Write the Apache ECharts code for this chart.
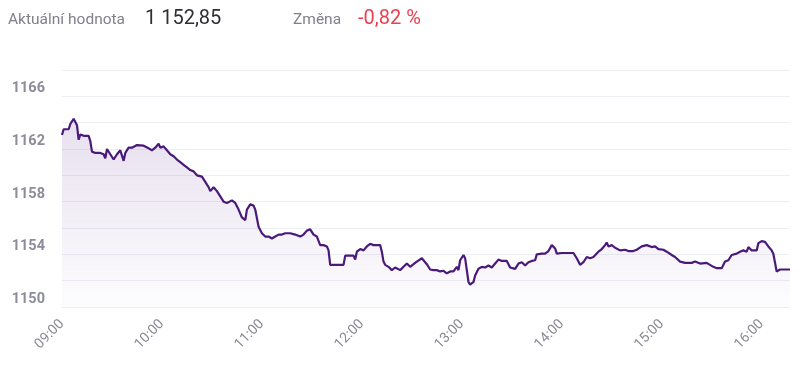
<!DOCTYPE html>
<html>
<head>
<meta charset="utf-8">
<script src="https://cdn.jsdelivr.net/npm/echarts@6/dist/echarts.min.js"></script>
<style>
html,body{margin:0;padding:0;background:#fff;}
#chart{width:800px;height:368px;}
</style>
</head>
<body>
<div id="chart"></div>
<script>
var headerLabel = 'Aktuální hodnota';
var headerValue = '1 152,85';
var changeLabel = 'Změna';
var changeValue = '-0,82 %';

var times = ['09:00','09:01','09:04','09:05','09:07','09:09','09:10','09:11','09:13','09:16','09:17','09:18','09:20','09:23','09:25','09:26','09:27','09:28','09:29','09:31','09:33','09:35','09:37','09:38','09:40','09:42','09:45','09:49','09:52','09:54','09:56','09:58','09:59','10:01','10:03','10:05','10:07','10:09','10:11','10:13','10:15','10:17','10:19','10:21','10:24','10:26','10:28','10:29','10:31','10:33','10:35','10:37','10:39','10:42','10:44','10:46','10:48','10:50','10:51','10:53','10:55','10:56','10:58','11:00','11:02','11:04','11:06','11:08','11:10','11:12','11:14','11:17','11:20','11:23','11:25','11:27','11:29','11:31','11:33','11:35','11:37','11:39','11:40','11:41','11:49','11:50','11:55','11:56','11:57','11:59','12:01','12:03','12:05','12:07','12:11','12:12','12:13','12:14','12:16','12:18','12:20','12:23','12:25','12:27','12:29','12:31','12:33','12:36','12:39','12:41','12:43','12:45','12:47','12:49','12:51','12:53','12:55','12:57','12:58','12:59','13:01','13:02','13:03','13:04','13:05','13:07','13:08','13:10','13:12','13:14','13:16','13:18','13:20','13:22','13:24','13:27','13:29','13:32','13:34','13:36','13:38','13:40','13:42','13:44','13:45','13:48','13:50','13:52','13:54','13:56','13:57','14:00','14:03','14:07','14:09','14:11','14:13','14:15','14:17','14:19','14:22','14:24','14:26','14:27','14:28','14:30','14:32','14:35','14:38','14:40','14:43','14:45','14:48','14:51','14:54','14:56','14:58','15:01','15:03','15:06','15:08','15:11','15:14','15:18','15:20','15:23','15:27','15:31','15:33','15:36','15:38','15:40','15:42','15:45','15:47','15:49','15:50','15:51','15:52','15:54','15:55','15:57','15:58','16:00','16:02','16:04','16:06','16:07','16:09','16:10','16:11','16:17'];

var values = [1163.06,1163.5,1163.5,1163.9,1164.3,1163.8,1162.7,1163.1,1163.0,1163.0,1162.6,1161.8,1161.7,1161.7,1161.6,1161.3,1162.0,1161.9,1161.6,1161.2,1161.6,1161.9,1161.1,1161.7,1162.1,1162.1,1162.3,1162.25,1162.05,1161.9,1162.1,1162.4,1162.1,1162.2,1161.9,1161.6,1161.45,1161.2,1161.0,1160.8,1160.6,1160.4,1160.3,1160.0,1159.9,1159.5,1159.1,1158.8,1159.1,1158.8,1158.4,1158.0,1157.9,1158.1,1157.9,1157.4,1156.8,1156.6,1157.4,1157.8,1157.7,1157.4,1156.1,1155.6,1155.35,1155.35,1155.2,1155.35,1155.5,1155.5,1155.6,1155.6,1155.5,1155.35,1155.5,1155.8,1155.9,1155.5,1155.35,1154.7,1154.7,1154.6,1154.3,1153.2,1153.2,1153.9,1153.9,1153.6,1154.2,1154.4,1154.3,1154.6,1154.8,1154.7,1154.7,1154.2,1153.45,1153.2,1153.05,1152.8,1153.0,1152.8,1153.05,1153.3,1153.05,1153.25,1153.45,1153.7,1153.25,1152.85,1152.8,1152.8,1152.7,1152.75,1152.55,1152.7,1152.7,1153.05,1152.8,1153.55,1153.95,1153.7,1152.8,1151.9,1151.7,1151.9,1152.4,1152.9,1153.05,1153.0,1153.15,1153.0,1153.3,1153.6,1153.5,1153.5,1153.0,1152.9,1153.3,1153.4,1153.15,1153.4,1153.5,1153.55,1154.0,1154.05,1154.05,1154.25,1154.7,1154.45,1154.05,1154.1,1154.1,1154.1,1153.7,1153.2,1153.4,1153.8,1153.7,1153.8,1154.2,1154.4,1154.7,1154.9,1154.6,1154.7,1154.5,1154.3,1154.35,1154.25,1154.25,1154.35,1154.6,1154.7,1154.55,1154.6,1154.4,1154.35,1154.2,1153.95,1153.8,1153.45,1153.35,1153.35,1153.45,1153.3,1153.35,1153.05,1152.95,1152.95,1153.45,1153.55,1153.95,1154.05,1154.2,1154.3,1154.45,1154.2,1154.55,1154.3,1154.35,1154.3,1154.85,1155.0,1154.95,1154.6,1154.3,1154.05,1152.7,1152.55,1152.85,1152.85];

var yMin = 1150, yMax = 1168, yStep = 2;
var xStartMin = 540, xEndMin = 977;

function toMin(s){ var p = s.split(':'); return (+p[0])*60 + (+p[1]); }
function fmt(m){ var h = Math.floor(m/60), mm = m%60; return (h<10?'0':'')+h+':'+(mm<10?'0':'')+mm; }

var seriesData = times.map(function(t,i){ return [toMin(t), values[i]]; });

var chart = echarts.init(document.getElementById('chart'), null, {renderer:'canvas'});
chart.setOption({
  animation:false,
  textStyle:{fontFamily:'Roboto'},
  graphic:[
    {type:'text', left:8, top:12, style:{text:headerLabel, fontSize:15.5, fill:'#80808c', fontFamily:'Roboto'}},
    {type:'text', left:145, top:9, style:{text:headerValue, fontSize:20, fill:'#2e2e35', fontFamily:'Roboto'}},
    {type:'text', left:293, top:12, style:{text:changeLabel, fontSize:15.5, fill:'#80808c', fontFamily:'Roboto'}},
    {type:'text', left:358, top:9, style:{text:changeValue, fontSize:20, fill:'#e8414f', fontFamily:'Roboto'}}
  ],
  grid:{left:62, right:10, top:70, bottom:61, containLabel:false},
  xAxis:{
    type:'value', min:xStartMin, max:xEndMin, interval:60,
    axisLine:{show:false}, axisTick:{show:false}, splitLine:{show:false},
    axisLabel:{rotate:45, fontSize:14, color:'#8a8a96', margin:15, showMaxLabel:false,
      formatter:function(v){ return fmt(v); }}
  },
  yAxis:{
    type:'value', min:yMin, max:yMax, interval:yStep,
    axisLine:{show:false}, axisTick:{show:false},
    splitLine:{lineStyle:{color:'#eeeef4', width:1}},
    axisLabel:{fontSize:14.5, fontWeight:'bold', color:'#8c8c9a', margin:17, verticalAlign:'bottom',
      formatter:function(v){ return ((v-yMin)%4===0 && v<yMax) ? String(v) : ''; }}
  },
  series:[{
    type:'line', data:seriesData, showSymbol:false, symbol:'none',
    lineStyle:{color:'#4a1a7a', width:2.2},
    areaStyle:{origin:'start', color:new echarts.graphic.LinearGradient(0,0,0,1,[
      {offset:0, color:'rgba(100,50,150,0.22)'},
      {offset:1, color:'rgba(100,50,150,0.02)'}
    ])}
  }]
});
</script>
</body>
</html>
